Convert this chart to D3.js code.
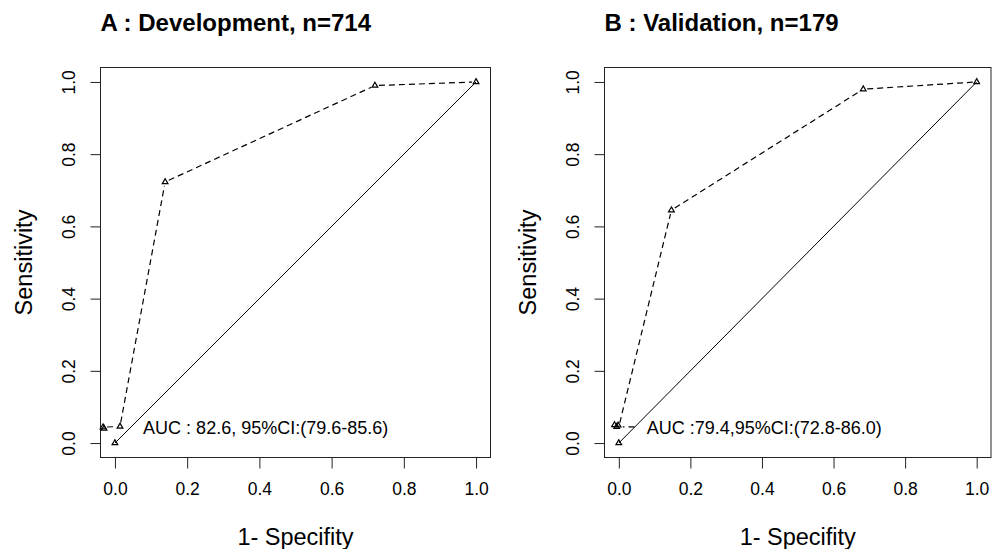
<!DOCTYPE html>
<html>
<head>
<meta charset="utf-8">
<script src="https://cdn.jsdelivr.net/npm/d3@7"></script>
<style>
  body { margin: 0; background: #fff; }
  svg text { font-family: "Liberation Sans", Arial, sans-serif; fill: #000; }
</style>
</head>
<body>
<svg id="chart" width="994" height="549"></svg>
<script>
// tick values shared by both panels
const tickValues = [0, 0.2, 0.4, 0.6, 0.8, 1.0];

// panel A : development set, ROC points (1-specificity, sensitivity)
const rocPathA = [[-0.033, 0.044], [0.014, 0.046], [0.139, 0.723], [0.72, 0.99], [1, 1]];
const rocMarksA = [[-0.033, 0.044], [-0.03, 0.04], [0.014, 0.046], [0.139, 0.723], [0.72, 0.99], [1, 1], [0, 0]];
const aucTextA = 'AUC : 82.6, 95%CI:(79.6-85.6)';
const titleA = 'A : Development, n=714';

// panel B : validation set
const rocPathB = [[0.055, 0.045], [0.0, 0.045], [0.147, 0.645], [0.683, 0.98], [1, 1]];
const rocMarksB = [[-0.012, 0.05], [-0.006, 0.045], [-0.002, 0.049], [0.147, 0.645], [0.683, 0.98], [1, 1], [0, 0]];
const aucTextB = 'AUC :79.4,95%CI:(72.8-86.0)';
const titleB = 'B : Validation, n=179';

const panels = [
  { left: 100.5, right: 490.5, path: rocPathA, marks: rocMarksA, auc: aucTextA, title: titleA },
  { left: 604.5, right: 991, path: rocPathB, marks: rocMarksB, auc: aucTextB, title: titleB }
];

const svg = d3.select('#chart');
const plotTop = 67.5, plotBottom = 457.5;

panels.forEach(function(p) {
  const x = d3.scaleLinear().domain([-0.04, 1.04]).range([p.left, p.right]);
  const y = d3.scaleLinear().domain([-0.04, 1.04]).range([plotBottom, plotTop]);
  const g = svg.append('g');

  // frame
  g.append('rect')
    .attr('x', p.left).attr('y', plotTop)
    .attr('width', p.right - p.left).attr('height', plotBottom - plotTop)
    .attr('fill', 'none').attr('stroke', '#222').attr('stroke-width', 1);

  // x axis
  const xAxis = g.append('g')
    .attr('transform', `translate(0, ${plotBottom})`)
    .call(d3.axisBottom(x).tickValues(tickValues).tickFormat(d3.format('.1f')).tickSize(11).tickPadding(14));
  xAxis.select('.domain').remove();
  xAxis.selectAll('.tick line').attr('stroke', '#222');
  xAxis.selectAll('.tick text').style('font-size', '17.5px');

  // y axis
  const yAxis = g.append('g')
    .attr('transform', `translate(${p.left}, 0)`)
    .call(d3.axisLeft(y).tickValues(tickValues).tickFormat(d3.format('.1f')).tickSize(10));
  yAxis.select('.domain').remove();
  yAxis.selectAll('.tick line').attr('stroke', '#222');
  yAxis.selectAll('.tick text')
    .style('font-size', '17.5px')
    .attr('x', null).attr('dy', null)
    .attr('text-anchor', 'middle')
    .attr('transform', 'translate(-26, 0) rotate(-90)')
    .attr('y', 0);

  // axis titles
  g.append('text')
    .attr('x', (x(0) + x(1)) / 2).attr('y', 545)
    .attr('text-anchor', 'middle').style('font-size', '23.5px')
    .text('1- Specifity');
  g.append('text')
    .attr('transform', `translate(${p.left - 69}, ${(y(0) + y(1)) / 2}) rotate(-90)`)
    .attr('text-anchor', 'middle').style('font-size', '23.5px')
    .text('Sensitivity');

  // title, left aligned on the frame
  g.append('text')
    .attr('x', p.left).attr('y', 31)
    .style('font-size', '24px').style('font-weight', 'bold')
    .text(p.title);

  // reference diagonal
  g.append('line')
    .attr('x1', x(0)).attr('y1', y(0)).attr('x2', x(1)).attr('y2', y(1))
    .attr('stroke', '#000').attr('stroke-width', 1);

  // dashed ROC with gaps around points (type "b")
  const gap = 4;
  for (let i = 0; i < p.path.length - 1; i++) {
    const x1 = x(p.path[i][0]), y1 = y(p.path[i][1]);
    const x2 = x(p.path[i + 1][0]), y2 = y(p.path[i + 1][1]);
    const len = Math.hypot(x2 - x1, y2 - y1);
    if (len <= gap * 2) continue;
    const ux = (x2 - x1) / len, uy = (y2 - y1) / len;
    g.append('line')
      .attr('x1', x1 + ux * gap).attr('y1', y1 + uy * gap)
      .attr('x2', x2 - ux * gap).attr('y2', y2 - uy * gap)
      .attr('stroke', '#000').attr('stroke-width', 1.2)
      .attr('stroke-dasharray', '6,4');
  }

  // triangle markers
  g.selectAll('.mark')
    .data(p.marks)
    .enter().append('path')
    .attr('class', 'mark')
    .attr('d', d3.symbol().type(d3.symbolTriangle).size(14))
    .attr('transform', d => `translate(${x(d[0])}, ${y(d[1])})`)
    .attr('fill', 'none').attr('stroke', '#000').attr('stroke-width', 1.2);

  // AUC annotation
  g.append('text')
    .attr('x', x(0.078)).attr('y', 434)
    .style('font-size', '18px')
    .text(p.auc);
});
</script>
</body>
</html>
